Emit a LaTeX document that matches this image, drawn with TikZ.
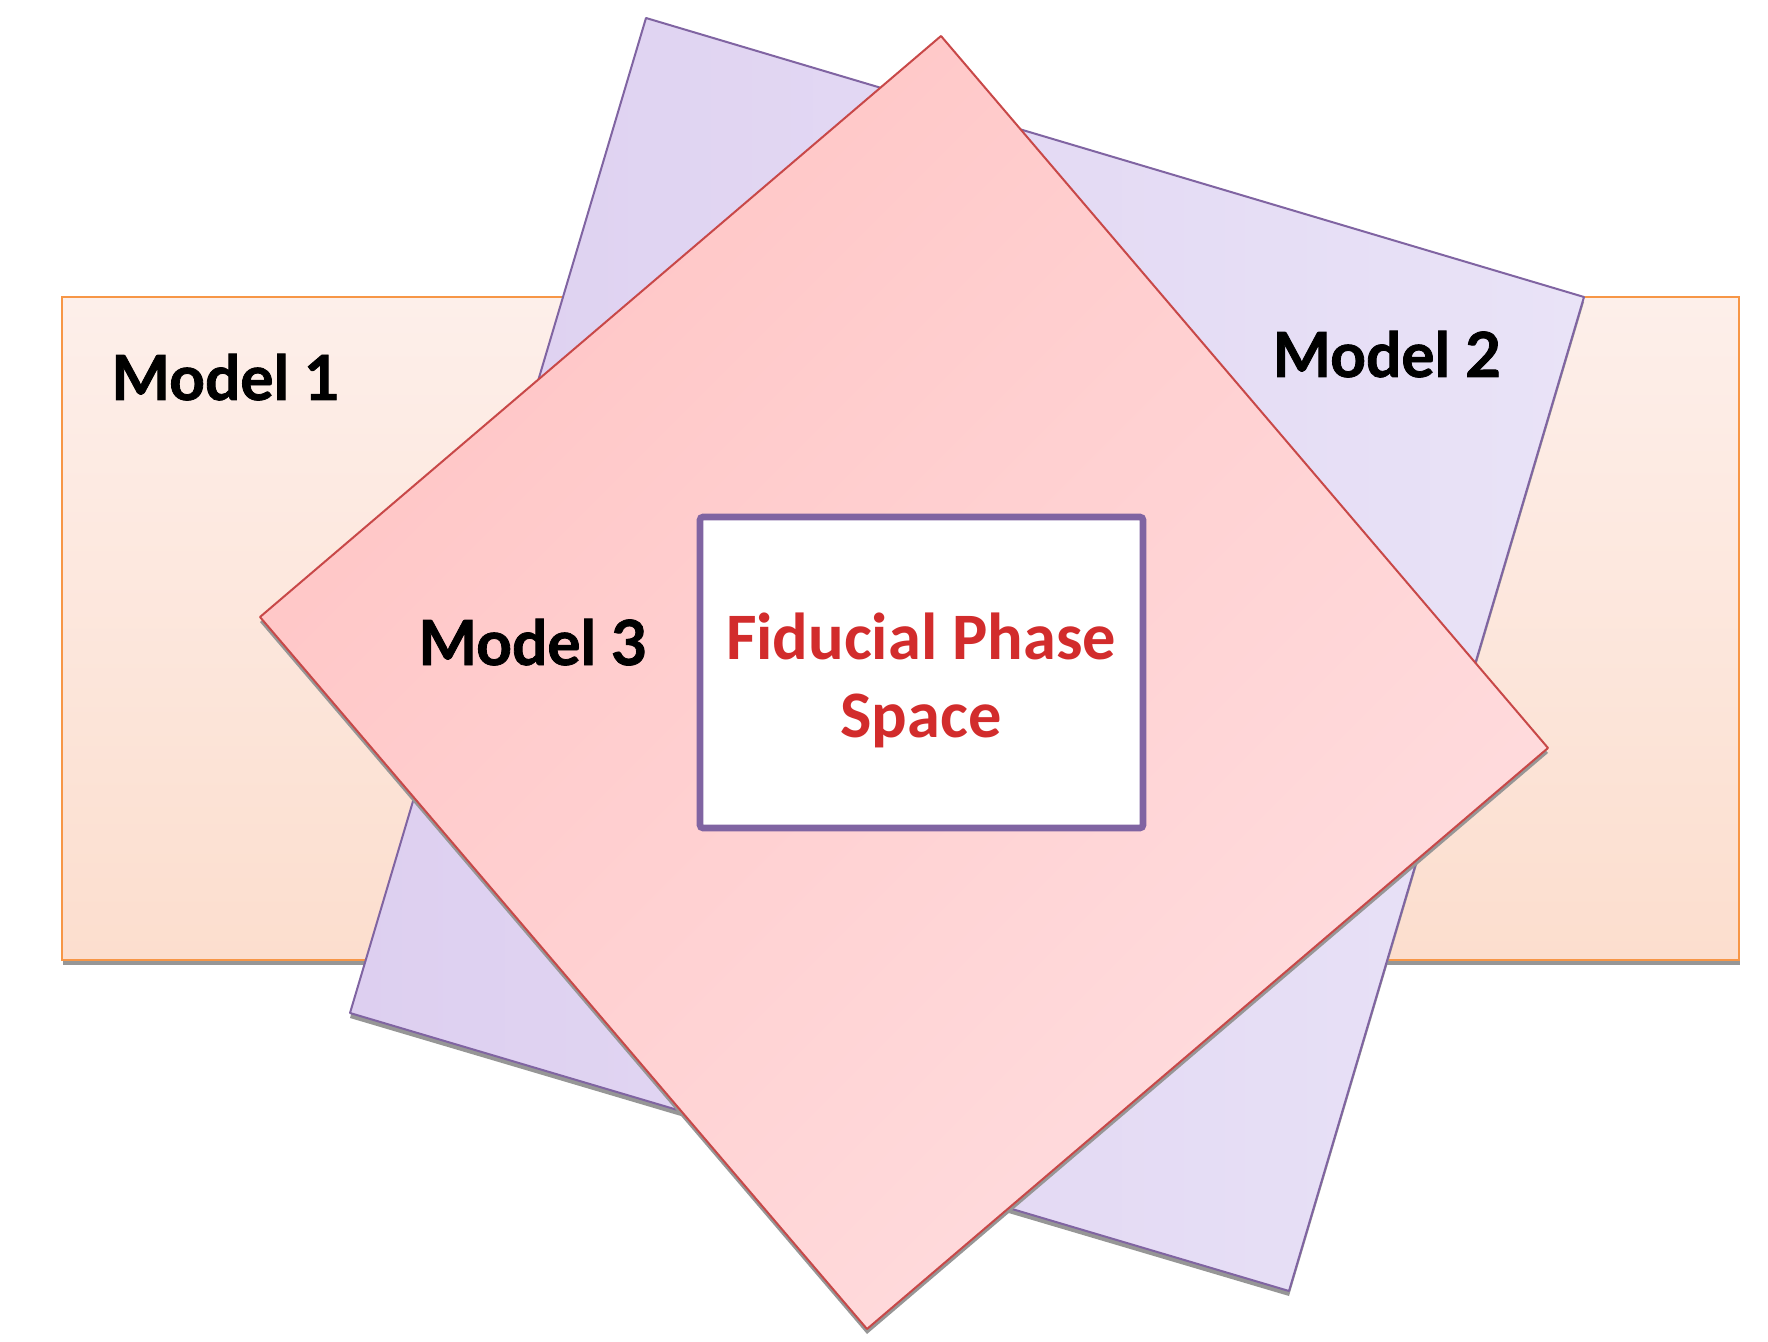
\documentclass[tikz,border=0pt]{standalone}
\usepackage{fontspec}
\setmainfont{Lato}[BoldFeatures={FakeBold=1.3}]
\newfontfamily\carlito{Carlito}
\definecolor{orangeline}{RGB}{247,150,70}
\definecolor{orangetop}{RGB}{253,239,234}
\definecolor{orangebot}{RGB}{252,222,206}
\definecolor{purpleline}{RGB}{128,100,162}
\definecolor{purpledark}{RGB}{221,207,240}
\definecolor{purplelight}{RGB}{233,227,247}
\definecolor{redline}{RGB}{200,72,72}
\definecolor{reddark}{RGB}{255,197,197}
\definecolor{redlight}{RGB}{255,221,223}
\definecolor{fidred}{RGB}{210,44,44}
\definecolor{shadowgray}{RGB}{150,150,150}
\tikzset{
  shadowfill/.style={fill=shadowgray},
  modellabel/.style={font=\fontsize{31.1}{36}\selectfont\bfseries, text=black, inner sep=0pt},
  fidlabel/.style={font=\carlito\fontsize{33.2}{39}\selectfont\bfseries, text=fidred, inner sep=0pt},
  fidbox/.style={draw=purpleline, fill=white, line width=3.3pt, rounded corners=1.5pt,
    minimum width=221.5pt, minimum height=155.5pt, inner sep=0pt},
}
\begin{document}
\begin{tikzpicture}[x=0.5pt,y=-0.5pt]
\useasboundingbox (0,0) rectangle (1768,1342);
\fill[white] (0,0) rectangle (1768,1342);
% coordinates
\coordinate (oA) at (62,297);
\coordinate (oB) at (1739,960);
\coordinate (p1) at (646,18);
\coordinate (p2) at (1584,297);
\coordinate (p3) at (1289,1291);
\coordinate (p4) at (350,1013);
\coordinate (r1) at (941,36);
\coordinate (r2) at (1548,748);
\coordinate (r3) at (867,1329);
\coordinate (r4) at (260,617);
% Model 1 rectangle
\fill[shadowfill] ([shift={(1,5)}]oA) rectangle ([shift={(1,5)}]oB);
\shade[top color=orangetop, bottom color=orangebot] (oA) rectangle (oB);
\draw[orangeline, line width=1pt] (oA) rectangle (oB);
% Model 2 rotated rectangle
\fill[shadowfill] ([shift={(0,5)}]p1) -- ([shift={(0,5)}]p2) -- ([shift={(0,5)}]p3) -- ([shift={(0,5)}]p4) -- cycle;
\shade[left color=purpledark, right color=purplelight] (p1) -- (p2) -- (p3) -- (p4) -- cycle;
\draw[purpleline, line width=1pt, line join=round] (p1) -- (p2) -- (p3) -- (p4) -- cycle;
% Model 3 diamond
\fill[shadowfill] ([shift={(0,5)}]r1) -- ([shift={(0,5)}]r2) -- ([shift={(0,5)}]r3) -- ([shift={(0,5)}]r4) -- cycle;
\shade[top color=reddark, bottom color=redlight, shading angle=45] (r1) -- (r2) -- (r3) -- (r4) -- cycle;
\draw[redline, line width=1pt, line join=round] (r1) -- (r2) -- (r3) -- (r4) -- cycle;
% Fiducial box
\node[fidbox] (fid) at (921.5,672.5) {};
% labels
\node[modellabel, anchor=base west] (m1) at (111,400) {Model 1};
\node[modellabel, anchor=base west] (m2) at (1272,377) {Model 2};
\node[modellabel, anchor=base west] (m3) at (418,665) {Model 3};
\node[fidlabel, anchor=base] (fp1) at (921,659) {Fiducial Phase};
\node[fidlabel, anchor=base] (fp2) at (921,737) {Space};
\end{tikzpicture}
\end{document}
